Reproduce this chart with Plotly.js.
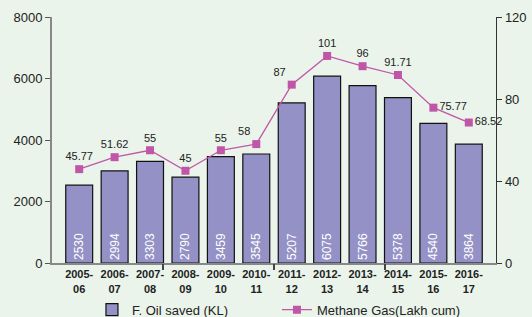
<!DOCTYPE html>
<html><head><meta charset="utf-8">
<script src="https://cdn.plot.ly/plotly-3.0.1.min.js"></script>
<style>body{margin:0;padding:0;background:#EAF4EA}#c{width:532px;height:317px}</style>
</head><body><div id="c"></div>
<script>
var years = ["2005-<br>06","2006-<br>07","2007-<br>08","2008-<br>09","2009-<br>10","2010-<br>11","2011-<br>12","2012-<br>13","2013-<br>14","2014-<br>15","2015-<br>16","2016-<br>17"];
var oilSaved = [2530,2994,3303,2790,3459,3545,5207,6075,5766,5378,4540,3864];
var methane = [45.77,51.62,55,45,55,58,87,101,96,91.71,75.77,68.52];
var methaneLabels = ["45.77","51.62","55","45","55","58","87","101","96","91.71","75.77","68.52"];
var labelPos = ["top center","top center","top center","top center","top center","top left","top left","top center","top center","top center","middle right","middle right"];
var groupTicks = [2.5, 5.5, 8.5];

var traces = [
 {type:'bar', x:years, y:oilSaved, name:'F. Oil saved (KL)',
  marker:{color:'#9491C6', line:{color:'#111', width:1.2}},
  text:oilSaved.map(String), textposition:'inside', insidetextanchor:'start', textangle:-90,
  textfont:{color:'#fff', size:12, family:'Liberation Sans, Arial'}, hoverinfo:'skip'},
 {type:'scatter', mode:'lines+markers+text', x:years, y:methane, yaxis:'y2', name:'Methane Gas(Lakh cum)',
  line:{color:'#C056A8', width:1.3}, marker:{symbol:'square', size:8, color:'#C056A8'},
  text:methaneLabels, textposition:labelPos, textfont:{color:'#222', size:11, family:'Liberation Sans, Arial'}, cliponaxis:false},
 {type:'scatter', mode:'markers', x:groupTicks, y:[0,0,0], xaxis:'x2', yaxis:'y', marker:{opacity:0}, showlegend:false, hoverinfo:'skip'}
];
var layout = {
 width:532, height:317, paper_bgcolor:'#EAF4EA', plot_bgcolor:'#EAF4EA',
 margin:{l:52, r:36, t:17, b:54, autoexpand:false},
 font:{family:'Liberation Sans, Arial', color:'#222'},
 bargap:0.24, showlegend:true,
 legend:{orientation:'h', x:0.09, xanchor:'left', y:-0.19, yanchor:'middle', font:{size:13}, traceorder:'normal', bgcolor:'rgba(0,0,0,0)', entrywidth:140, entrywidthmode:'pixels', itemwidth:30},
 xaxis:{tickfont:{size:11, family:'Liberation Sans, Arial', weight:'bold'}, showline:true, linecolor:'#888', linewidth:2, ticks:'', showgrid:false},
 xaxis2:{overlaying:'x', anchor:'y', side:'bottom', type:'linear', range:[-0.5,11.5], tickmode:'array', tickvals:groupTicks, ticktext:['','',''], showticklabels:true, ticks:'outside', ticklen:6, tickwidth:1.2, tickcolor:'#444', showline:true, linecolor:'rgba(0,0,0,0)', showgrid:false, zeroline:false, layer:'above traces'},
 yaxis:{range:[0,8000], dtick:2000, showline:true, linecolor:'#888', linewidth:2, ticks:'outside', ticklen:5, tickcolor:'#555', showgrid:false, zeroline:false, tickfont:{size:13}},
 yaxis2:{range:[0,120], dtick:40, overlaying:'y', side:'right', showline:true, linecolor:'#333', linewidth:1.3, ticks:'outside', ticklen:5, tickcolor:'#333', showgrid:false, zeroline:false, tickfont:{size:13}}
};
Plotly.newPlot('c', traces, layout, {displayModeBar:false, staticPlot:true});
</script></body></html>
